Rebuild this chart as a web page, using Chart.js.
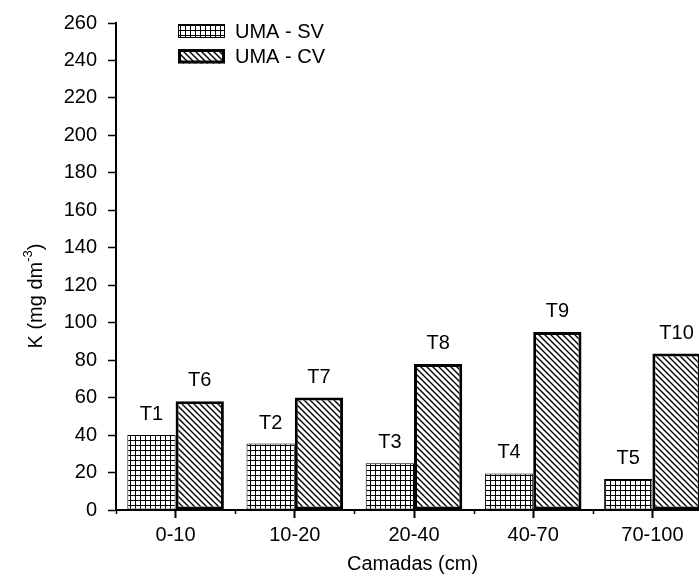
<!DOCTYPE html>
<html>
<head>
<meta charset="utf-8">
<script src="https://cdn.jsdelivr.net/npm/chart.js@4/dist/chart.umd.min.js"></script>
<style>
  html, body { margin: 0; padding: 0; background: #fff; overflow: hidden; }
  #wrap { width: 712px; height: 580px; }
</style>
</head>
<body>
<div id="wrap"><canvas id="mycanvas" width="712" height="580"></canvas></div>
<script>
const camadas = ["0-10", "10-20", "20-40", "40-70", "70-100"];
const umaSV = [40, 35.5, 25, 19.5, 16.5];
const umaCV = [58, 60, 78, 95, 83.5];
const rotulosSV = ["T1", "T2", "T3", "T4", "T5"];
const rotulosCV = ["T6", "T7", "T8", "T9", "T10"];
const yMin = 0;
const yMax = 260;
const yStep = 20;

const fonte = "'Liberation Sans', Arial, sans-serif";
Chart.defaults.font.family = fonte;
Chart.defaults.font.size = 20;
Chart.defaults.color = "#000";

// grid pattern for UMA - SV
function gridPattern() {
  let c = document.createElement("canvas");
  c.width = 5; c.height = 5;
  let g = c.getContext("2d");
  g.fillStyle = "#fff";
  g.fillRect(0, 0, 5, 5);
  g.fillStyle = "#000";
  g.fillRect(0, 0, 5, 1);
  g.fillRect(0, 0, 1, 5);
  return g.createPattern(c, "repeat");
}

// diagonal hatch for UMA - CV
function hatchPattern() {
  let s = 6;
  let c = document.createElement("canvas");
  c.width = s; c.height = s;
  let g = c.getContext("2d");
  g.fillStyle = "#fff";
  g.fillRect(0, 0, s, s);
  g.strokeStyle = "#000";
  g.lineWidth = 1.4;
  for (let k = -s; k <= s; k += s) {
    g.beginPath();
    g.moveTo(k - 1, -1);
    g.lineTo(k + s + 1, s + 1);
    g.stroke();
  }
  return g.createPattern(c, "repeat");
}

const padSV = gridPattern();
const padCV = hatchPattern();

const extras = {
  id: "extras",
  afterDraw(chart) {
    const ctx = chart.ctx;
    const xs = chart.scales.x;
    const area = chart.chartArea;

    ctx.save();
    // minor ticks between categories
    ctx.strokeStyle = "#000";
    ctx.lineWidth = 1.5;
    for (let i = 0; i <= camadas.length; i++) {
      let x = Math.round(xs.getPixelForValue(i - 0.5)) + 0.5;
      ctx.beginPath();
      ctx.moveTo(x, area.bottom);
      ctx.lineTo(x, area.bottom + 4);
      ctx.stroke();
    }

    // T labels above bars
    ctx.font = "20px " + fonte;
    ctx.fillStyle = "#000";
    ctx.textAlign = "center";
    ctx.textBaseline = "alphabetic";
    [rotulosSV, rotulosCV].forEach((rot, d) => {
      chart.getDatasetMeta(d).data.forEach((el, i) => {
        ctx.fillText(rot[i], el.x, el.y - 15);
      });
    });

    // legend
    const leg = [
      { y: 24, h: 14, bw: 1, fill: padSV, text: chart.data.datasets[0].label, base: 38 },
      { y: 49, h: 14.5, bw: 3, fill: padCV, text: chart.data.datasets[1].label, base: 63 },
    ];
    ctx.textAlign = "left";
    leg.forEach((l) => {
      ctx.fillStyle = l.fill;
      ctx.fillRect(178, l.y, 47, l.h);
      ctx.lineWidth = l.bw;
      ctx.strokeStyle = "#000";
      ctx.strokeRect(178 + l.bw / 2, l.y + l.bw / 2, 47 - l.bw, l.h - l.bw);
      ctx.fillStyle = "#000";
      ctx.fillText(l.text, 235, l.base);
    });

    // x title
    ctx.textAlign = "center";
    ctx.fillText("Camadas (cm)", (area.left + 709) / 2, 570);

    // y title with superscript
    ctx.translate(42, 296);
    ctx.rotate(-Math.PI / 2);
    const main = "K (mg dm";
    ctx.font = "20px " + fonte;
    let w1 = ctx.measureText(main).width;
    ctx.font = "13px " + fonte;
    let w2 = ctx.measureText("-3").width;
    ctx.font = "20px " + fonte;
    let w3 = ctx.measureText(")").width;
    let x0 = -(w1 + w2 + w3) / 2;
    ctx.textAlign = "left";
    ctx.fillText(main, x0, 0);
    ctx.font = "13px " + fonte;
    ctx.fillText("-3", x0 + w1, -10);
    ctx.font = "20px " + fonte;
    ctx.fillText(")", x0 + w1 + w2, 0);
    ctx.restore();
  },
};

const ctx = document.getElementById("mycanvas");
const myChart = new Chart(ctx, {
  type: "bar",
  data: {
    labels: camadas,
    datasets: [
      {
        label: "UMA - SV",
        data: umaSV,
        backgroundColor: padSV,
        borderColor: "#000",
        borderWidth: 1,
        borderSkipped: false,
      },
      {
        label: "UMA - CV",
        data: umaCV,
        backgroundColor: padCV,
        borderColor: "#000",
        borderWidth: 3,
        borderSkipped: false,
      },
    ],
  },
  options: {
    responsive: false,
    animation: false,
    devicePixelRatio: 1,
    datasets: {
      bar: { categoryPercentage: 0.81, barPercentage: 1.0 },
    },
    layout: { padding: { top: 23, right: 0, left: 0, bottom: 0 } },
    plugins: {
      legend: { display: false },
      tooltip: { enabled: false },
    },
    scales: {
      x: {
        offset: true,
        grid: {
          offset: false,
          drawOnChartArea: false,
          drawTicks: true,
          tickLength: 8,
          tickColor: "#000",
          tickWidth: 2,
        },
        border: { display: true, color: "#000", width: 2 },
        ticks: { padding: 5, font: { size: 20 }, color: "#000", maxRotation: 0 },
        afterFit: (s) => { s.height = 70; },
      },
      y: {
        min: yMin,
        max: yMax,
        grid: {
          drawOnChartArea: false,
          drawTicks: true,
          tickLength: 8,
          tickColor: "#000",
          tickWidth: 1.5,
        },
        border: { display: true, color: "#000", width: 2 },
        ticks: { stepSize: yStep, padding: 11, font: { size: 20 }, color: "#000" },
        afterFit: (s) => { s.width = 116; },
      },
    },
  },
  plugins: [extras],
});
</script>
</body>
</html>
